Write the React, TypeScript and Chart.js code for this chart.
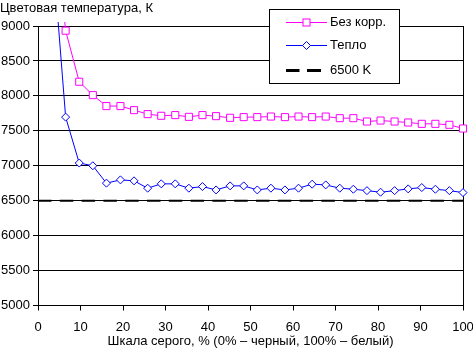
import React, { useEffect, useRef } from "react";
import { Chart, registerables } from "chart.js";

Chart.register(...registerables);

// Grayscale level, % (0% – black, 100% – white)
const grayLevels: number[] = [
  3.2, 6.5, 9.7, 12.9, 16.1, 19.4, 22.6, 25.8, 29.0, 32.3, 35.5, 38.7, 41.9, 45.2, 48.4,
  51.6, 54.8, 58.1, 61.3, 64.5, 67.7, 71.0, 74.2, 77.4, 80.6, 83.9, 87.1, 90.3, 93.5, 96.8, 100,
];

// "Без корр." series, K
const noCorrValues: number[] = [
  11000, 8933, 8202, 8011, 7854, 7854, 7796, 7739, 7715, 7725, 7700, 7725, 7710, 7686, 7696,
  7696, 7704, 7696, 7704, 7696, 7704, 7681, 7681, 7633, 7647, 7633, 7619, 7600, 7600, 7586, 7533,
];

// "Тепло" series, K
const warmValues: number[] = [
  10250, 7696, 7039, 7000, 6751, 6798, 6784, 6679, 6741, 6741, 6679, 6702, 6654, 6712, 6712,
  6654, 6679, 6654, 6679, 6736, 6726, 6679, 6664, 6644, 6621, 6644, 6669, 6688, 6664, 6644, 6616,
];

// Reference line
const refX: number[] = [0, 100];
const refValues: number[] = [6500, 6500];

const seriesNames: string[] = ["Без корр.", "Тепло", "6500 K"];
const yTitle = "Цветовая температура, К";
const xTitle = "Шкала серого, % (0% – черный, 100% – белый)";

const FONT = "'Liberation Sans', Arial, sans-serif";
const FS = 13;
const PINK = "#FF00FF";
const BLUE = "#0000FF";

const toPoints = (xs: number[], ys: number[]) => xs.map((x, i) => ({ x, y: ys[i] }));

const decorPlugin = {
  id: "decor",
  beforeDatasetsDraw(chart: any) {
    const { ctx, chartArea } = chart;
    ctx.save();
    ctx.strokeStyle = "#000";
    ctx.lineWidth = 1;
    const r = Math.round(chartArea.right) + 0.5;
    ctx.beginPath();
    ctx.moveTo(r, Math.round(chartArea.top));
    ctx.lineTo(r, Math.round(chartArea.bottom) + 1);
    ctx.stroke();
    ctx.restore();
  },
  afterDraw(chart: any) {
    const { ctx } = chart;
    ctx.save();
    // y title at top-left
    ctx.font = `${FS}px ${FONT}`;
    ctx.fillStyle = "#000";
    ctx.textAlign = "left";
    ctx.textBaseline = "middle";
    ctx.fillText(yTitle, 0, 8);

    // legend box
    const bx = 269.5, by = 9.5, bw = 130, bh = 74;
    ctx.fillStyle = "#fff";
    ctx.fillRect(bx, by, bw, bh);
    ctx.strokeStyle = "#000";
    ctx.lineWidth = 1;
    ctx.strokeRect(bx, by, bw, bh);

    const lx0 = 286, lx1 = 327, mx = 306.5, tx = 330;
    const rows = [22.5, 45.5, 70.5];

    // row 1: pink line + square
    ctx.strokeStyle = PINK;
    ctx.beginPath();
    ctx.moveTo(lx0, rows[0]);
    ctx.lineTo(lx1, rows[0]);
    ctx.stroke();
    ctx.fillStyle = "#fff";
    ctx.fillRect(mx - 3.5, rows[0] - 3.5, 7, 7);
    ctx.strokeRect(mx - 3.5, rows[0] - 3.5, 7, 7);

    // row 2: blue line + diamond
    ctx.strokeStyle = BLUE;
    ctx.beginPath();
    ctx.moveTo(lx0, rows[1]);
    ctx.lineTo(lx1, rows[1]);
    ctx.stroke();
    ctx.beginPath();
    ctx.moveTo(mx - 4, rows[1]);
    ctx.lineTo(mx, rows[1] - 4);
    ctx.lineTo(mx + 4, rows[1]);
    ctx.lineTo(mx, rows[1] + 4);
    ctx.closePath();
    ctx.fillStyle = "#fff";
    ctx.fill();
    ctx.stroke();

    // row 3: dashed black
    ctx.strokeStyle = "#000";
    ctx.lineWidth = 3;
    ctx.beginPath();
    ctx.moveTo(286, rows[2]);
    ctx.lineTo(299.5, rows[2]);
    ctx.moveTo(307, rows[2]);
    ctx.lineTo(321, rows[2]);
    ctx.stroke();

    ctx.fillStyle = "#000";
    ctx.font = `${FS}px ${FONT}`;
    ctx.textAlign = "left";
    ctx.textBaseline = "middle";
    seriesNames.forEach((n, i) => ctx.fillText(n, tx, rows[i]));
    ctx.restore();
  },
};

export default function App() {
  const canvasRef = useRef<HTMLCanvasElement | null>(null);

  useEffect(() => {
    document.body.style.margin = "0";
    const canvas = canvasRef.current;
    if (!canvas) return;
    const chart = new Chart(canvas, {
      type: "line",
      data: {
        datasets: [
          {
            label: seriesNames[0],
            data: toPoints(grayLevels, noCorrValues),
            borderColor: PINK,
            backgroundColor: "#fff",
            borderWidth: 1,
            pointStyle: "rect",
            pointRadius: 5,
            pointBorderWidth: 1,
            pointBorderColor: PINK,
            pointBackgroundColor: "#fff",
            tension: 0,
            clip: { left: 0, top: 4, right: 8, bottom: 0 },
          },
          {
            label: seriesNames[1],
            data: toPoints(grayLevels, warmValues),
            borderColor: BLUE,
            backgroundColor: "#fff",
            borderWidth: 1,
            pointStyle: "rectRot",
            pointRadius: 4,
            pointBorderWidth: 1,
            pointBorderColor: BLUE,
            pointBackgroundColor: "#fff",
            tension: 0,
            clip: { left: 0, top: 4, right: 8, bottom: 0 },
          },
          {
            label: seriesNames[2],
            data: toPoints(refX, refValues),
            borderColor: "#000",
            borderWidth: 2,
            borderDash: [13.5, 8.3],
            pointRadius: 0,
            tension: 0,
          },
        ],
      },
      options: {
        animation: false,
        responsive: true,
        maintainAspectRatio: false,
        layout: { padding: { left: 0, top: 26, right: 10, bottom: 0 } },
        plugins: {
          legend: { display: false },
          tooltip: { enabled: false },
        },
        scales: {
          x: {
            type: "linear",
            min: 0,
            max: 100,
            ticks: {
              stepSize: 10,
              color: "#000",
              padding: 9,
              maxRotation: 0,
              font: { family: FONT, size: FS },
            },
            grid: {
              drawOnChartArea: false,
              drawTicks: true,
              tickLength: 5,
              color: "#000",
              tickColor: "#000",
            },
            border: { display: true, color: "#000", width: 1 },
            title: {
              display: true,
              text: xTitle,
              color: "#000",
              font: { family: FONT, size: FS },
              padding: { top: 0, bottom: 0 },
            },
            afterFit: (s: any) => {
              s.height = 43.5;
              s.paddingLeft = 0;
              s.paddingRight = 0;
            },
          },
          y: {
            type: "linear",
            min: 5000,
            max: 9000,
            ticks: {
              stepSize: 500,
              color: "#000",
              padding: 3,
              font: { family: FONT, size: FS },
              callback: (v: any) => String(v),
            },
            grid: {
              color: "#000",
              lineWidth: 1,
              drawTicks: true,
              tickLength: 5,
              tickColor: "#000",
            },
            border: { display: true, color: "#000", width: 1 },
            afterFit: (s: any) => {
              s.width = 38;
              s.paddingTop = 0;
              s.paddingBottom = 0;
            },
          },
        },
      },
      plugins: [decorPlugin],
    });
    return () => chart.destroy();
  }, []);

  return (
    <div style={{ position: "fixed", left: 0, top: 0, width: 473, height: 349, background: "#fff" }}>
      <canvas ref={canvasRef} />
    </div>
  );
}
